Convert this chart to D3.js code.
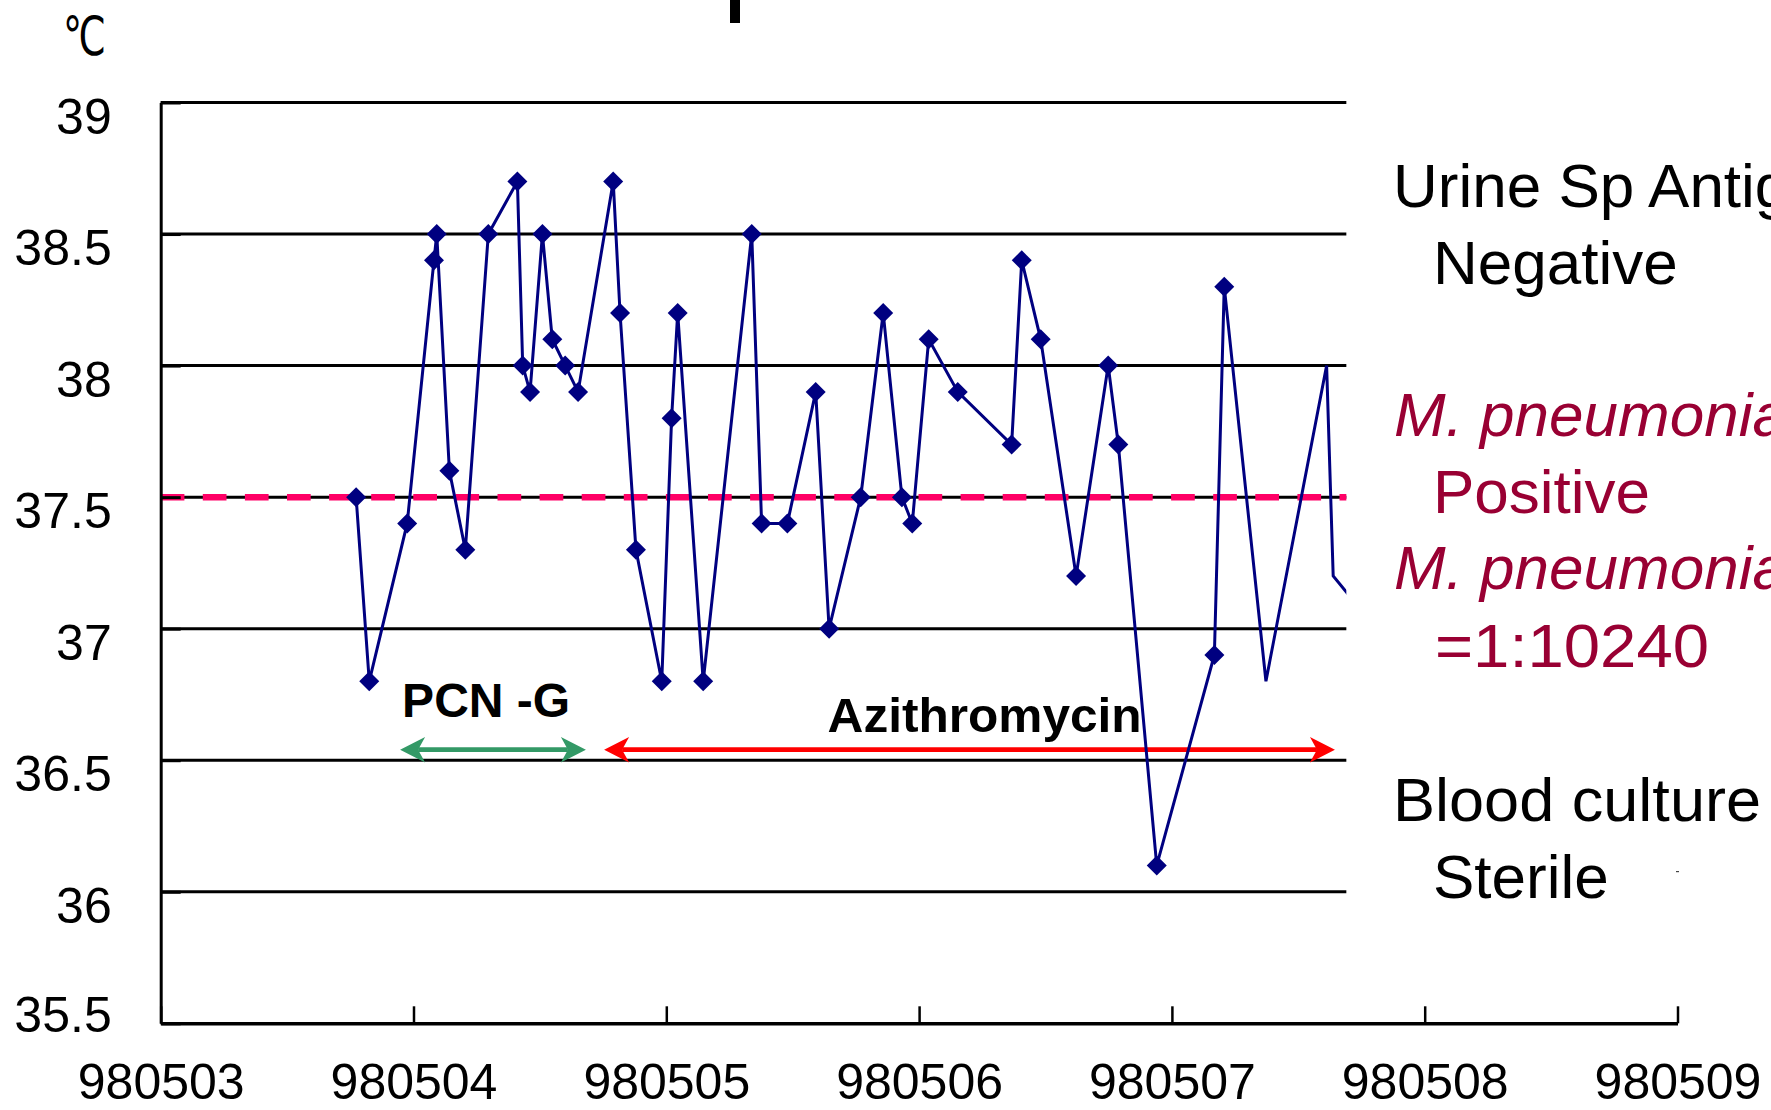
<!DOCTYPE html>
<html>
<head>
<meta charset="utf-8">
<script src="https://cdn.jsdelivr.net/npm/d3@7"></script>
<style>
  body { margin: 0; background: #fff; }
  svg { display: block; }
</style>
</head>
<body>
<div id="chart"></div>
<script>
// data (x = days after 980503)
var dayPos = [0.773, 0.825, 0.975, 1.081, 1.092, 1.142, 1.205, 1.296, 1.411, 1.432,
              1.461, 1.510, 1.549, 1.600, 1.651, 1.790, 1.817, 1.880, 1.982, 2.021,
              2.045, 2.146, 2.338, 2.377, 2.479, 2.591, 2.644, 2.769, 2.858, 2.932,
              2.973, 3.038, 3.153, 3.366, 3.406, 3.481, 3.621, 3.748, 3.788, 3.940,
              4.168, 4.207, 4.372, 4.612, 4.638, 4.980];
var tempC  = [37.5, 36.8, 37.4, 38.4, 38.5, 37.6, 37.3, 38.5, 38.7, 38.0,
              37.9, 38.5, 38.1, 38.0, 37.9, 38.7, 38.2, 37.3, 36.8, 37.8,
              38.2, 36.8, 38.5, 37.4, 37.4, 37.9, 37.0, 37.5, 38.2, 37.5,
              37.4, 38.1, 37.9, 37.7, 38.4, 38.1, 37.2, 38.0, 37.7, 36.1,
              36.9, 38.3, 36.8, 38.0, 37.2, 36.8];
var markedPoints = 42;   // last points of the series are drawn without markers

var xTickLabels = ["980503", "980504", "980505", "980506", "980507", "980508", "980509"];
var yTicks = [35.5, 36, 36.5, 37, 37.5, 38, 38.5, 39];
var feverLine = 37.5;

var drugNames = ["PCN -G", "Azithromycin"];
var drugStart = [0.947, 1.754];
var drugEnd   = [1.682, 4.645];

var noteLines = ["Urine Sp Antigen", "Negative", "M. pneumoniae", "Positive",
                 "M. pneumoniae", "=1:10240", "Blood culture", "Sterile"];

var width = 1771, height = 1110;
var gridEndDay = 4.69;   // gridlines and series are hidden behind the note box

var x = d3.scaleLinear().domain([0, 6]).range([160.7, 1677.5]);
var y = d3.scaleLinear().domain([35.5, 39]).range([1023.3, 102.5]);

var svg = d3.select("#chart")
  .append("svg")
    .attr("width", width)
    .attr("height", height)
    .style("font-family", "'Liberation Sans', Arial, sans-serif");

svg.append("rect").attr("width", width).attr("height", height).attr("fill", "#fff");

svg.append("clipPath").attr("id", "plot-clip")
  .append("rect")
    .attr("x", 0).attr("y", 0)
    .attr("width", x(gridEndDay)).attr("height", height);

// title descender cut off at the top
svg.append("rect")
  .attr("x", 730).attr("y", 0)
  .attr("width", 10).attr("height", 23)
  .attr("fill", "#000");

// unit
svg.append("text")
  .attr("x", 63).attr("y", 55)
  .style("font-family", "'DejaVu Sans', sans-serif")
  .attr("font-size", 54)
  .attr("textLength", 43)
  .attr("lengthAdjust", "spacingAndGlyphs")
  .text("℃");

// horizontal gridlines
svg.append("g")
  .selectAll("line")
  .data(yTicks.filter(function(d) { return d > 35.5; }))
  .enter().append("line")
    .attr("x1", x(0)).attr("x2", x(gridEndDay))
    .attr("y1", function(d) { return y(d); })
    .attr("y2", function(d) { return y(d); })
    .attr("stroke", "#000")
    .attr("stroke-width", 3);

// 37.5 reference line
svg.append("line")
  .attr("x1", x(0)).attr("x2", x(gridEndDay))
  .attr("y1", y(feverLine)).attr("y2", y(feverLine))
  .attr("stroke", "#ff0066")
  .attr("stroke-width", 6.5)
  .attr("stroke-dasharray", "23.7,18.4");

// Y axis
var yAxis = svg.append("g")
  .attr("transform", "translate(" + x(0) + ",0)")
  .call(d3.axisLeft(y).tickValues(yTicks).tickSize(-20).tickSizeOuter(0)
          .tickFormat(function(d) { return String(d); }));
yAxis.select(".domain").attr("stroke-width", 3);
yAxis.selectAll(".tick line").attr("stroke-width", 3);
yAxis.selectAll(".tick text")
  .attr("x", -49)
  .attr("dy", function(d) { return d === 35.5 ? 8 : 30.5; })
  .attr("font-size", 50)
  .attr("fill", "#000")
  .style("font-family", "'Liberation Sans', Arial, sans-serif");

// X axis
var xAxis = svg.append("g")
  .attr("transform", "translate(0," + y(35.5) + ")")
  .call(d3.axisBottom(x).tickValues(d3.range(xTickLabels.length)).tickSize(-17).tickSizeOuter(0)
          .tickFormat(function(d) { return xTickLabels[d]; }));
xAxis.select(".domain").attr("stroke-width", 3.5);
xAxis.selectAll(".tick line").attr("stroke-width", 2.5);
xAxis.selectAll(".tick text")
  .attr("y", 75.5).attr("dy", 0)
  .attr("font-size", 50)
  .attr("fill", "#000")
  .style("font-family", "'Liberation Sans', Arial, sans-serif");

// treatment arrows
var arrowY = y(36.54);
var drugColors = ["#339966", "#ff0000"];
function arrowHead(tipX, dir) {
  // dir = 1 points right, -1 points left
  return "M" + tipX + "," + arrowY +
         "L" + (tipX - dir * 25) + "," + (arrowY - 12.7) +
         "L" + (tipX - dir * 18) + "," + arrowY +
         "L" + (tipX - dir * 25) + "," + (arrowY + 12.7) + "Z";
}
drugNames.forEach(function(name, i) {
  var g = svg.append("g");
  var x0 = x(drugStart[i]), x1 = x(drugEnd[i]);
  g.append("line")
    .attr("x1", x0 + 18).attr("x2", x1 - 18)
    .attr("y1", arrowY).attr("y2", arrowY)
    .attr("stroke", drugColors[i])
    .attr("stroke-width", 4.7);
  g.append("path").attr("d", arrowHead(x1, 1)).attr("fill", drugColors[i]);
  g.append("path").attr("d", arrowHead(x0, -1)).attr("fill", drugColors[i]);
});

svg.append("text")
  .attr("x", x(0.955)).attr("y", 716.7)
  .attr("font-size", 48).attr("font-weight", "bold")
  .text(drugNames[0]);
svg.append("text")
  .attr("x", x(2.638)).attr("y", 731.7)
  .attr("font-size", 48).attr("font-weight", "bold")
  .attr("textLength", 314)
  .attr("lengthAdjust", "spacingAndGlyphs")
  .text(drugNames[1]);

// temperature series
var series = dayPos.map(function(d, i) { return {day: d, temp: tempC[i]}; });

svg.append("path")
  .datum(series)
  .attr("clip-path", "url(#plot-clip)")
  .attr("fill", "none")
  .attr("stroke", "#000080")
  .attr("stroke-width", 3)
  .attr("d", d3.line()
    .x(function(d) { return x(d.day); })
    .y(function(d) { return y(d.temp); }));

svg.append("g")
  .selectAll("path")
  .data(series.slice(0, markedPoints))
  .enter().append("path")
    .attr("d", d3.symbol().type(d3.symbolSquare).size(200))
    .attr("transform", function(d) {
      return "translate(" + x(d.day) + "," + y(d.temp) + ")rotate(45)";
    })
    .attr("fill", "#000080");

// notes on the right
var noteX    = [1393, 1433, 1394, 1433, 1394, 1435, 1393, 1433];
var noteY    = [207, 284, 436.4, 512.5, 589, 667.2, 820.6, 898];
var noteFill = ["#000", "#000", "#990033", "#990033", "#990033", "#990033", "#000", "#000"];
var noteIt   = [false, false, true, false, true, false, false, false];
var noteLen  = [null, null, null, null, null, 274, 368, null];

svg.append("g")
  .selectAll("text")
  .data(noteLines)
  .enter().append("text")
    .attr("x", function(d, i) { return noteX[i]; })
    .attr("y", function(d, i) { return noteY[i]; })
    .attr("font-size", 62)
    .attr("fill", function(d, i) { return noteFill[i]; })
    .attr("font-style", function(d, i) { return noteIt[i] ? "italic" : "normal"; })
    .attr("textLength", function(d, i) { return noteLen[i]; })
    .attr("lengthAdjust", "spacingAndGlyphs")
    .text(function(d) { return d; });

// small speck near the note box
svg.append("rect")
  .attr("x", 1676).attr("y", 871)
  .attr("width", 3).attr("height", 1.2)
  .attr("fill", "#444");
</script>
</body>
</html>
